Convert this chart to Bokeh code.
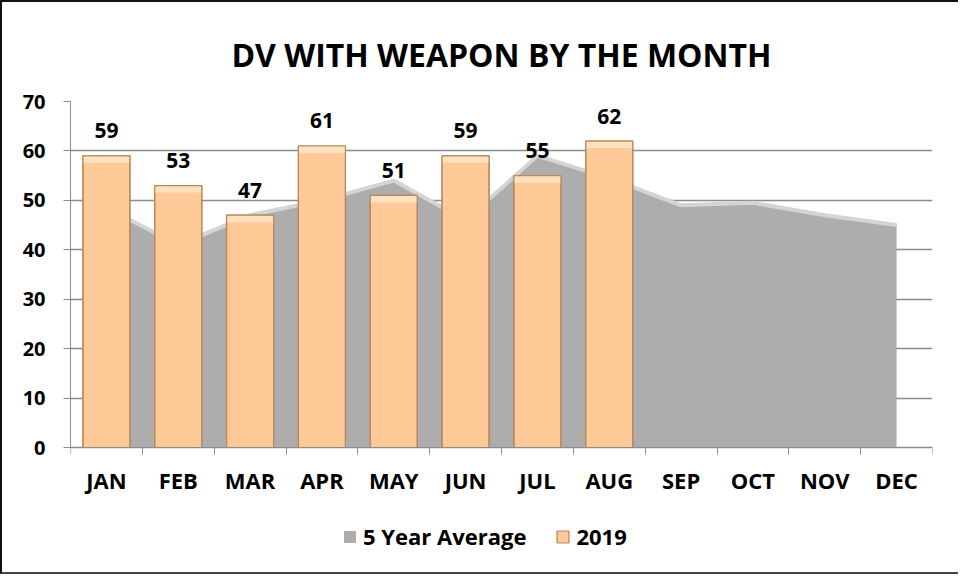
import numpy as np
from bokeh.plotting import figure
from bokeh.models import (Range1d, FixedTicker, Legend, LegendItem,
                          Title, ColumnDataSource)
from bokeh.core.properties import value
from bokeh.embed import file_html
from bokeh.resources import INLINE

# ---- data ----
months = ["JAN", "FEB", "MAR", "APR", "MAY", "JUN", "JUL", "AUG", "SEP", "OCT", "NOV", "DEC"]
five_year_avg = [48.5, 41, 47, 50, 54, 46, 59, 54.5, 49, 49.5, 47, 45]
values_2019 = [59, 53, 47, 61, 51, 59, 55, 62]
y_ticks = [0, 10, 20, 30, 40, 50, 60, 70]
title_text = "DV WITH WEAPON BY THE MONTH"
series_names = ["5 Year Average", "2019"]

FONT = "Open Sans"
centers = np.arange(len(months)) + 0.5
W, H = 958, 574
Y_BOTTOM = -22.05          # room under the zero line for month labels and legend
PX_PER_UNIT = 455 / (70 - Y_BOTTOM)
BEVEL = 7 / PX_PER_UNIT

p = figure(width=W, height=H, output_backend="svg", toolbar_location=None,
           x_range=Range1d(0, len(months)), y_range=Range1d(Y_BOTTOM, y_ticks[-1]),
           min_border_left=68, min_border_right=28, min_border_top=99, min_border_bottom=20,
           background_fill_color="white", border_fill_color="white")
p.outline_line_color = None
p.styles = {"border-left": "2px solid #111", "border-top": "2px solid #111",
            "border-bottom": "2px solid #444"}

p.title = Title(text=title_text, align="center", text_font=FONT, text_font_size="32px",
                text_font_style="bold", text_color="black", standoff=52)

# area (5-year average)
area_src = ColumnDataSource(dict(x=centers, y=five_year_avg))
area = p.varea(x="x", y1=0, y2="y", source=area_src, fill_color="#ADADAD")
p.line(x="x", y="y", source=area_src, line_color="#D4D4D4", line_width=4)

# bars (2019)
bar_src = ColumnDataSource(dict(x=centers[:len(values_2019)], top=values_2019,
                                band=[v - BEVEL for v in values_2019],
                                lab=[str(v) for v in values_2019]))
bars = p.vbar(x="x", top="top", bottom=0, width=0.655, source=bar_src, fill_color="#FFCA98",
              line_color="#B8895C", line_width=1.2)
p.vbar(x="x", top="top", bottom="band", width=0.655, source=bar_src, fill_color="#FFE0BF",
       line_color=None)
p.vbar(x="x", top="top", bottom=0, width=0.655, source=bar_src, fill_color=None,
       line_color="#B8895C", line_width=1.2)
p.text(x="x", y="top", text="lab", source=bar_src, text_align="center",
       text_baseline="alphabetic", y_offset=-25, text_font=value(FONT),
       text_font_size="21px", text_font_style="bold", text_color="black")

# axes
p.xgrid.grid_line_color = None
p.ygrid.grid_line_color = "#8C8C8C"
p.ygrid.grid_line_width = 1.5

yax = p.yaxis[0]
yax.ticker = FixedTicker(ticks=y_ticks)
yax.bounds = (y_ticks[0], y_ticks[-1])
yax.axis_line_color = "#8C8C8C"
yax.major_tick_line_color = "#8C8C8C"
yax.major_tick_in = 0
yax.major_tick_out = 7
yax.minor_tick_line_color = None
yax.major_label_text_font = FONT
yax.major_label_text_font_size = "20px"
yax.major_label_text_font_style = "bold"
yax.major_label_text_color = "black"
yax.major_label_standoff = 18

xax = p.xaxis[0]
xax.fixed_location = 0
xax.ticker = FixedTicker(ticks=list(centers), minor_ticks=list(range(len(months) + 1)))
xax.major_label_overrides = {float(c): m for c, m in zip(centers, months)}
xax.axis_line_color = "#8C8C8C"
xax.major_tick_line_color = None
xax.major_tick_in = 0
xax.major_tick_out = 0
xax.minor_tick_line_color = "#8C8C8C"
xax.minor_tick_in = 0
xax.minor_tick_out = 7
xax.major_label_text_font = FONT
xax.major_label_text_font_size = "22px"
xax.major_label_text_font_style = "bold"
xax.major_label_text_color = "black"
xax.major_label_standoff = 10

legend = Legend(items=[LegendItem(label=series_names[0], renderers=[area]),
                       LegendItem(label=series_names[1], renderers=[bars])],
                orientation="horizontal", location=(272, 5),
                label_text_font=FONT, label_text_font_size="22px", label_text_font_style="bold",
                label_text_color="black",
                glyph_width=15, glyph_height=15, spacing=29, label_standoff=6,
                border_line_color=None, background_fill_alpha=0, margin=0, padding=0)
p.add_layout(legend, "center")

open("out.html", "w").write(file_html(p, INLINE))
